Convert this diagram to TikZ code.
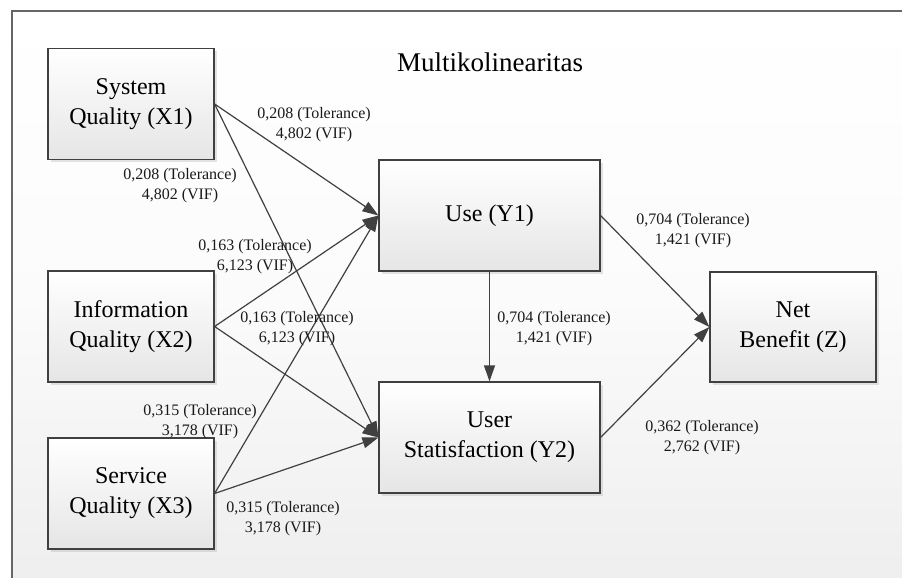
\documentclass[tikz,border=0pt]{standalone}
\usepackage{fontspec}
\setmainfont{Liberation Serif}
\usetikzlibrary{arrows.meta,shadows}
\definecolor{edgec}{HTML}{404040}
\definecolor{framec}{HTML}{666666}
\definecolor{txtc}{HTML}{1A1A1A}
\tikzset{
  varbox/.style={draw=edgec, line width=1.2pt, top color=white, bottom color=gray!20,
    minimum width=166pt, minimum height=111pt, inner sep=0pt, align=center,
    font=\fontsize{24}{30}\selectfont, text=black,
    drop shadow={shadow xshift=2.5pt, shadow yshift=-2.5pt, opacity=0.3, fill=gray!70}},
  widebox/.style={varbox, minimum width=221pt},
  arr/.style={draw=edgec, line width=1.2pt, -{Triangle[length=16pt,width=11pt]}},
  lbl/.style={align=center, inner sep=0pt, text=txtc, font=\fontsize{16}{20}\selectfont},
}
\begin{document}
\begin{tikzpicture}[x=1pt,y=-1pt]
\useasboundingbox (0,0) rectangle (902,578);
\shade[top color=white, bottom color=gray!13, middle color=white!97!gray] (12,11) rectangle (902,578);
\draw[framec, line width=1.5pt] (12,578) -- (12,11) -- (902,11);

\node[font=\fontsize{27}{32}\selectfont, text=black] (title) at (490,62) {Multikolinearitas};

\node[varbox] (x1) at (131,104) {System\\Quality (X1)};
\node[varbox] (x2) at (131,326.5) {Information\\Quality (X2)};
\node[varbox] (x3) at (131,493.5) {Service\\Quality (X3)};
\node[widebox] (y1) at (489.5,215.5) {Use (Y1)};
\node[widebox] (y2) at (489.5,437.5) {User\\Statisfaction (Y2)};
\node[varbox, minimum height=110pt] (z) at (793,327) {Net\\Benefit (Z)};

\draw[arr] (x1.east) -- (y1.west);
\draw[arr] (x1.east) -- (y2.west);
\draw[arr] (x2.east) -- (y1.west);
\draw[arr] (x2.east) -- (y2.west);
\draw[arr] (x3.east) -- (y1.west);
\draw[arr] (x3.east) -- (y2.west);
\draw[arr] (y1.south) -- (y2.north);
\draw[arr] (y1.east) -- (z.west);
\draw[arr] (y2.east) -- (z.west);

\node[lbl] (l1) at (314,125) {0,208 (Tolerance)\\4,802 (VIF)};
\node[lbl] (l2) at (180,186) {0,208 (Tolerance)\\4,802 (VIF)};
\node[lbl] (l3) at (255,257) {0,163 (Tolerance)\\6,123 (VIF)};
\node[lbl] (l4) at (297,329) {0,163 (Tolerance)\\6,123 (VIF)};
\node[lbl] (l5) at (200,422) {0,315 (Tolerance)\\3,178 (VIF)};
\node[lbl] (l6) at (283,519) {0,315 (Tolerance)\\3,178 (VIF)};
\node[lbl] (l7) at (554,329) {0,704 (Tolerance)\\1,421 (VIF)};
\node[lbl] (l8) at (693,231) {0,704 (Tolerance)\\1,421 (VIF)};
\node[lbl] (l9) at (702,438) {0,362 (Tolerance)\\2,762 (VIF)};
\end{tikzpicture}
\end{document}
